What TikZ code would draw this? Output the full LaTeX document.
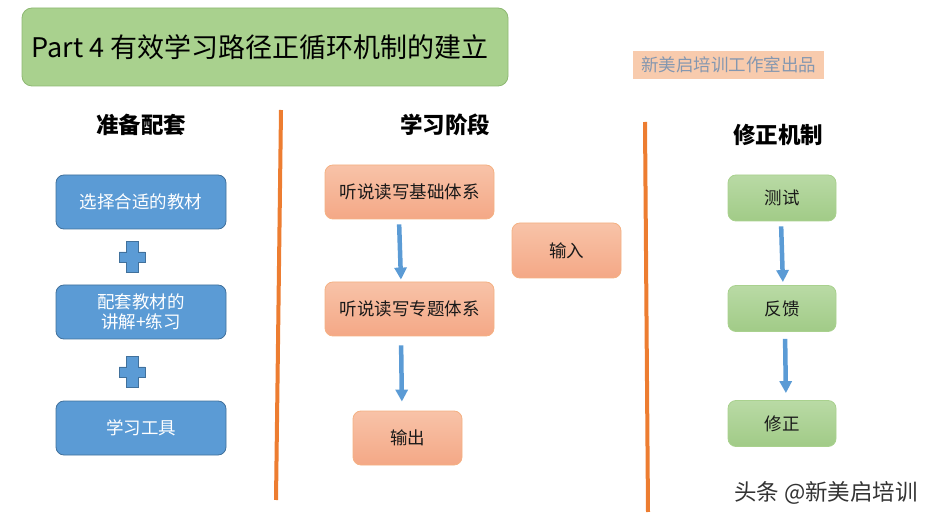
\documentclass[tikz,border=0pt]{standalone}
\usepackage{fontspec}
\setmainfont{Noto Sans CJK SC}
\usetikzlibrary{arrows.meta}
\definecolor{titlegreen}{HTML}{A9D18E}
\definecolor{titleline}{HTML}{8DB872}
\definecolor{markpeach}{HTML}{F8CBAD}
\definecolor{marktext}{HTML}{8497B0}
\definecolor{boxblue}{HTML}{5B9BD5}
\definecolor{boxblueline}{HTML}{41719C}
\definecolor{peachtop}{HTML}{F8C3A8}
\definecolor{peachbot}{HTML}{F4A886}
\definecolor{peachline}{HTML}{F4B183}
\definecolor{greentop}{HTML}{B9DAA5}
\definecolor{greenbot}{HTML}{A1CB87}
\definecolor{greenline}{HTML}{A9D18E}
\definecolor{flowblue}{HTML}{5B9BD5}
\definecolor{divorange}{HTML}{ED7D31}
\begin{document}
\begin{tikzpicture}[x=1pt,y=-1pt,
	box/.style={rounded corners=8pt,minimum height=54pt,inner sep=0pt,align=center,line width=0.8pt,font=\fontsize{17.5}{20}\selectfont},
	bluebox/.style={box,fill=boxblue,draw=boxblueline,text=white,minimum width=170pt},
	peachbox/.style={box,draw=peachline,top color=peachtop,bottom color=peachbot,text=black!90,minimum width=169pt},
	greenbox/.style={box,draw=greenline,top color=greentop,bottom color=greenbot,text=black!90,minimum width=108pt,minimum height=46pt},
	header/.style={font=\fontsize{22.5}{26}\selectfont\bfseries},
	flow/.style={-{Triangle[width=12pt,length=12pt]},line width=4.5pt,draw=flowblue},
	divider/.style={line width=4pt,draw=divorange},
	plusmark/.style={fill=boxblue,draw=boxblueline,line width=0.8pt}]
	\useasboundingbox (0,0) rectangle (940,521);
	
	\node[rounded corners=10pt,fill=titlegreen,draw=titleline,line width=0.8pt,minimum width=486pt,minimum height=78pt] (title) at (265,47) {};
	\node[font=\fontsize{27}{30}\selectfont,inner sep=0pt] (titletext) at (260,47) {Part 4 有效学习路径正循环机制的建立};
	\node[fill=markpeach,minimum width=191pt,minimum height=28pt,inner sep=0pt,text=marktext,font=\fontsize{17.5}{20}\selectfont] (credit) at (728.5,65) {新美启培训工作室出品};
	
	\node[header] (prep) at (141,124.5) {准备配套};
	\node[header] (stage) at (445,124.5) {学习阶段};
	\node[header] (fixhead) at (778,135) {修正机制};
	
	\draw[divider] (281,110) -- (276,500);
	\draw[divider] (645,122) -- (648,512);
	
	% left column
	\node[bluebox] (book) at (141,202) {选择合适的教材};
	\node[bluebox] (drill) at (141,312) {配套教材的\\讲解+练习};
	\node[bluebox] (tools) at (141,428) {学习工具};
	\draw[plusmark,shift={(132,257)}] (-6,-15.5) -- (6,-15.5) -- (6,-5) -- (13,-5) -- (13,5) -- (6,5) -- (6,15.5) -- (-6,15.5) -- (-6,5) -- (-13,5) -- (-13,-5) -- (-6,-5) -- cycle;
	\draw[plusmark,shift={(132,372)}] (-6,-15.5) -- (6,-15.5) -- (6,-5) -- (13,-5) -- (13,5) -- (6,5) -- (6,15.5) -- (-6,15.5) -- (-6,5) -- (-13,5) -- (-13,-5) -- (-6,-5) -- cycle;
	
	% middle column
	\node[peachbox] (basic) at (409.5,192) {听说读写基础体系};
	\node[peachbox] (topic) at (409.5,309) {听说读写专题体系};
	\node[peachbox,minimum width=109pt] (output) at (407.5,438) {输出};
	\node[peachbox,minimum width=109pt,minimum height=55pt] (input) at (566.5,250.5) {输入};
	\draw[flow,shorten <=5pt,shorten >=2pt] ([xshift=-10.5pt]basic.south) -- ([xshift=-8.5pt]topic.north);
	\draw[flow,shorten <=9pt,shorten >=9pt] ([xshift=-8.5pt]topic.south) -- ([xshift=-5.5pt]output.north);
	
	% right column
	\node[greenbox] (test) at (782,198) {测试};
	\node[greenbox] (feedback) at (782,308.5) {反馈};
	\node[greenbox] (fix) at (782,423.5) {修正};
	\draw[flow,shorten <=5pt,shorten >=3pt] ([xshift=-1pt]test.south) -- ([xshift=1pt]feedback.north);
	\draw[flow,shorten <=7pt,shorten >=7pt] ([xshift=3pt]feedback.south) -- ([xshift=4pt]fix.north);
	
	\node[text=black!80,font=\fontsize{22.5}{25}\selectfont] (tag) at (826,493) {头条 @新美启培训};
\end{tikzpicture}
\end{document}
